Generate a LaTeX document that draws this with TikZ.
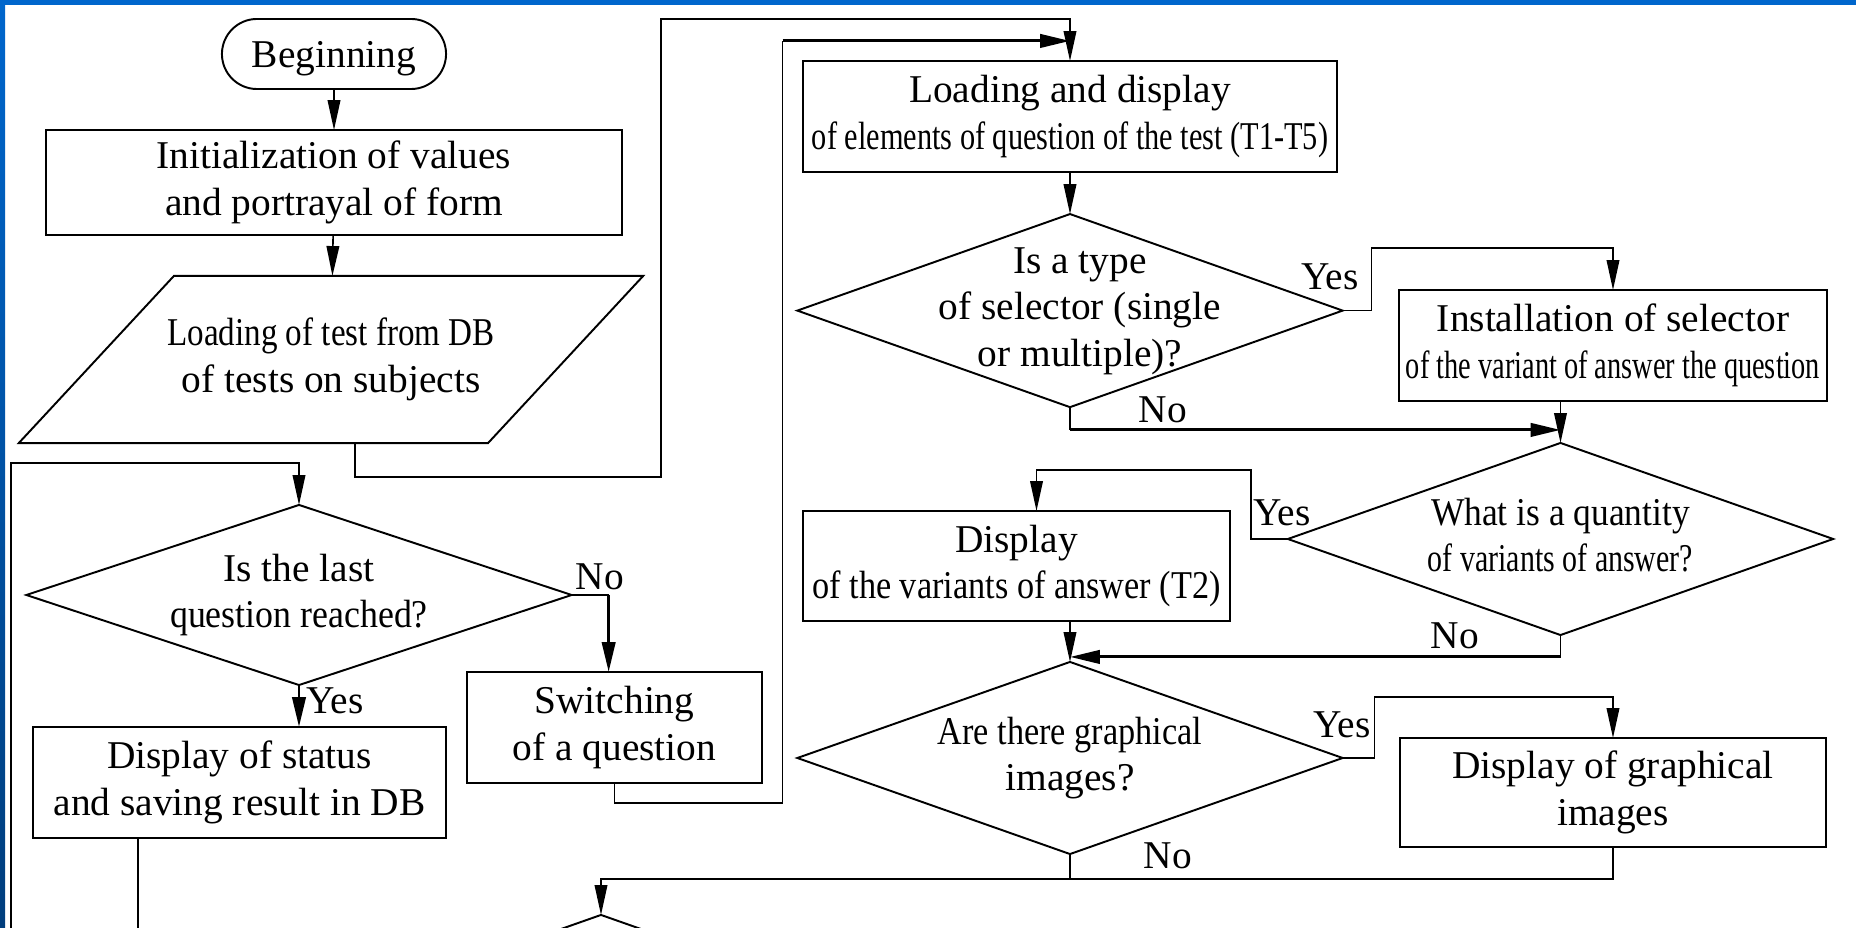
\documentclass[tikz,border=0pt]{standalone}
\usepackage{fontspec}
\setmainfont{Liberation Serif}
\usepackage{graphicx}
\usepackage{tikz}
\usetikzlibrary{positioning,shapes.geometric,shapes.misc,arrows.meta}
\definecolor{frameblue}{RGB}{0,102,204}
\definecolor{framedark}{RGB}{0,62,125}
\newcommand{\narrow}[2]{\scalebox{#1}[1]{#2}}
\newcommand{\ask}[1]{\makebox[0pt]{\begin{tabular}{@{}c@{}}#1\end{tabular}}}

\begin{document}
\begin{tikzpicture}[
  x=0.01cm, y=-0.01cm,
  every node/.style={font=\fontsize{11.2}{13.2}\selectfont},
  block/.style={rectangle, draw, line width=0.55pt, align=center, inner sep=0pt, outer sep=0pt},
  terminal/.style={rounded rectangle, draw, line width=0.55pt, inner sep=0pt, outer sep=0pt,
                   text depth=0pt, minimum width=2.24cm, minimum height=0.70cm},
  io/.style={rectangle, align=center, inner sep=0pt, outer sep=0pt,
             minimum width=6.24cm, minimum height=1.67cm},
  decision/.style={diamond, draw, line width=0.55pt, aspect=2.8, inner sep=0pt, outer sep=0pt,
                   minimum width=5.45cm, minimum height=1.92cm},
  tag/.style={inner sep=0pt},
  link/.style={line width=0.45pt},
  flow/.style={line width=0.45pt, -{Triangle[length=8.5pt,width=3.6pt]}},
  flowthick/.style={line width=0.85pt, -{Triangle[length=8.5pt,width=3.8pt]}}
]
  \useasboundingbox (0,0) rectangle (1856,928);
  \clip (0,0) rectangle (1856,928);
  \fill[white] (0,0) rectangle (1856,928);

  \node[terminal] (begin) at (334,54) {Beginning};
  \node[block, minimum width=5.75cm, minimum height=1.05cm, below=0.41cm of begin] (init)
    {Initialization of values\\and portrayal of form};
  \node[io] (load) at (331,359.5)
    {\narrow{0.84}{Loading of test from DB}\\of tests on subjects};
  \draw[line width=0.55pt] (load.south west) -- ([xshift=1.55cm]load.north west)
    -- (load.north east) -- ([xshift=-1.55cm]load.south east) -- cycle;

  \node[decision, minimum height=1.80cm] (last) at (299,595)
    {\ask{Is the last\\\narrow{0.91}{question reached?}}};
  \node[block, minimum width=4.13cm, minimum height=1.11cm] (status) at (239.5,782.5)
    {Display of status\\and saving result in DB};
  \node[block, minimum width=2.95cm, minimum height=1.11cm] (switch) at (614.5,727.5)
    {Switching\\of a question};

  \node[block, minimum width=5.33cm, minimum height=1.11cm] (show) at (1070,116.5)
    {Loading and display\\\narrow{0.77}{of elements of question of the test (T1-T5)}};
  \node[decision, minimum height=1.93cm, below=0.42cm of show] (type)
    {\hspace{0.2cm}\ask{Is a type\\of selector (single\\or multiple)?}};
  \node[block, minimum width=4.28cm, minimum height=1.11cm] (setsel) at (1613,345.5)
    {Installation of selector\\\narrow{0.72}{of the variant of answer the question}};
  \node[decision] (count) at (1560.5,539)
    {\ask{\narrow{0.9}{What is a quantity}\\\narrow{0.76}{of variants of answer?}}};
  \node[block, minimum width=4.27cm, minimum height=1.10cm] (variants) at (1016.5,566)
    {Display\\\narrow{0.87}{of the variants of answer (T2)}};
  \node[decision] (graph) at (1070,758)
    {\ask{\narrow{0.87}{Are there graphical}\\images?}};
  \node[block, minimum width=4.26cm, minimum height=1.09cm] (images) at (1613,792.5)
    {Display of graphical\\images};
  \node[decision] (next) at (601,1011) {};

  \node[tag] (no1) at (600,577) {No};
  \node[tag] (yes1) at (335,701) {Yes};
  \node[tag] (yes2) at (1330,277) {Yes};
  \node[tag] (no2) at (1163,410) {No};
  \node[tag] (yes3) at (1282,513) {Yes};
  \node[tag] (no3) at (1455,636) {No};
  \node[tag] (yes4) at (1342,725) {Yes};
  \node[tag] (no4) at (1168,856) {No};

  \coordinate (loopfoot) at (11,940);
  \coordinate (statfoot) at (138,940);
  \coordinate (feed) at ([yshift=2mm]show.north);
  \coordinate (merge) at ([yshift=3.6mm]next.north);
  \coordinate (join2) at ([yshift=1.3mm]count.north);
  \coordinate (join3) at ([yshift=0.5mm]graph.north);

  \draw[flow] (begin) -- (init);
  \draw[flow] (init) -- (load);
  \draw[flow] ([xshift=2.4mm]load.south) |- ++(306,34) |- ([yshift=4.2mm]show.north) -- (show.north);
  \draw[flow] (loopfoot) |- ([yshift=4.2mm]last.north) -- (last.north);
  \draw[flowthick] (last.south) -- (last.south |- status.north);
  \draw[link] (last.east) -- ++(37,0) coordinate (nobend);
  \draw[flowthick] (nobend) -- (nobend |- switch.north);
  \draw[link] (status.south -| statfoot) -- (statfoot);
  \draw[link] (switch.south) |- ++(168,20) coordinate (rise) -- (rise |- feed);
  \draw[flowthick] (rise |- feed) -- (feed);

  \draw[flow] (show) -- (type);
  \draw[flow] (type.east) -- ++(29,0) |- ([yshift=4.2mm]setsel.north) -- (setsel.north);
  \draw[link] (type.south) -- (type.south |- join2);
  \draw[flowthick] (type.south |- join2) -- (join2);
  \draw[flow] (setsel.south -| count.north) -- (count.north);
  \draw[flow] (count.west) -- ++(-37,0) |- ([xshift=2mm,yshift=4.1mm]variants.north) -- ([xshift=2mm]variants.north);
  \draw[link] (count.south) -- (count.south |- join3);
  \draw[flowthick] (count.south |- join3) -- (join3);
  \draw[flow] (variants.south -| graph.north) -- (graph.north);
  \draw[flow] (graph.east) -- ++(32,0) |- ([yshift=4.1mm]images.north) -- (images.north);
  \draw[link] (graph.south) -- (graph.south |- merge);
  \draw[flow] (images.south) |- (merge) -- (next.north);

  \fill[frameblue] (0,0) rectangle (1856,5);
  \shade[top color=frameblue, bottom color=framedark] (0,0) rectangle (5,928);
\end{tikzpicture}
\end{document}
